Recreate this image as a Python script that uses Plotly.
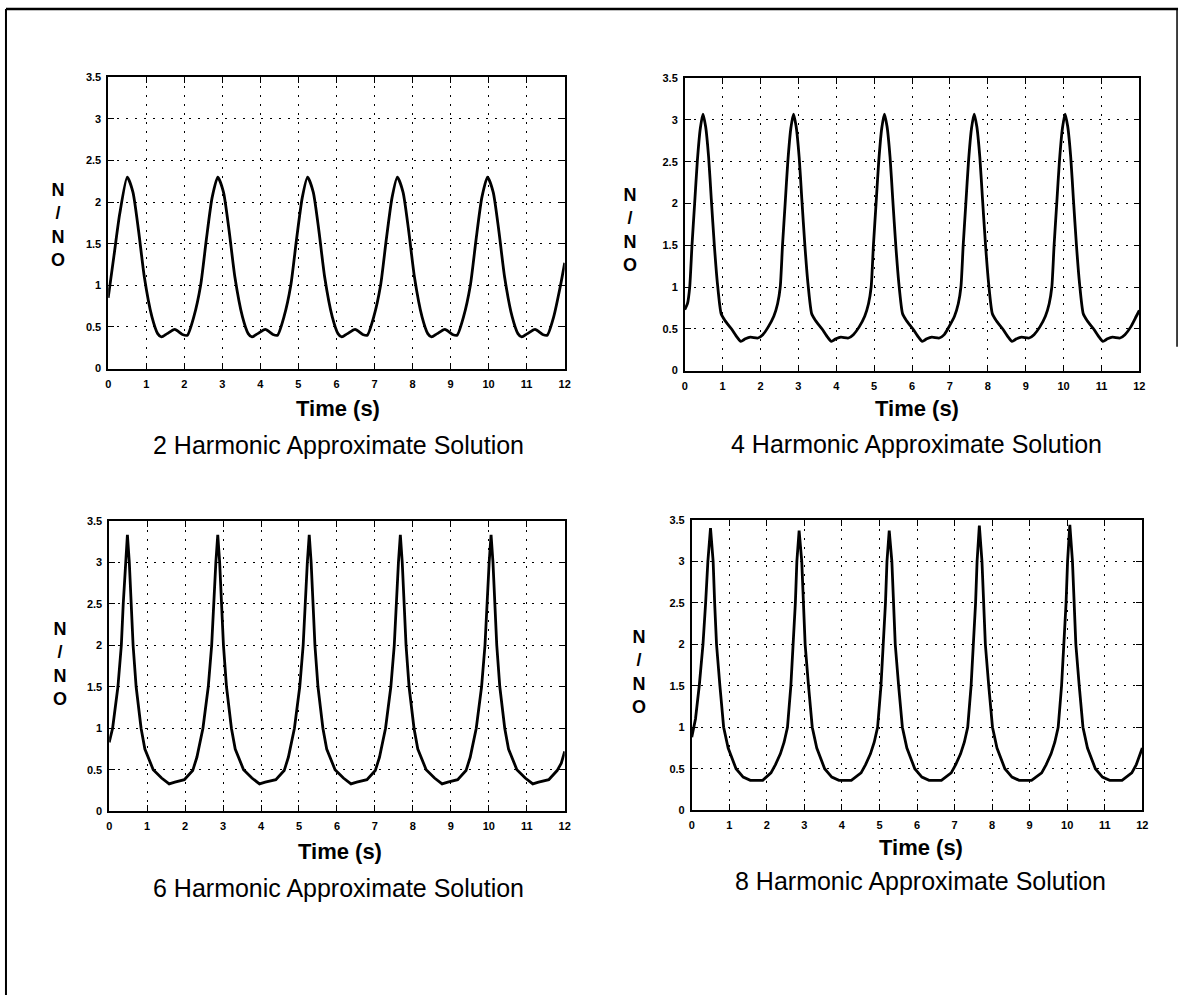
import plotly.graph_objects as go

W, H = 1187, 1001

# ---------------- data ----------------
t_h2 = [0.00, 0.15, 0.30, 0.50, 0.65, 0.80, 0.95, 1.15, 1.30, 1.40, 1.55, 1.75, 1.95, 2.08, 2.25,
        2.43, 2.58, 2.73, 2.88, 3.03, 3.18, 3.33, 3.53, 3.68, 3.78, 3.93, 4.13, 4.33, 4.45, 4.62,
        4.80, 4.95, 5.10, 5.24, 5.39, 5.54, 5.69, 5.89, 6.04, 6.14, 6.29, 6.49, 6.69, 6.81, 6.98,
        7.16, 7.31, 7.46, 7.60, 7.75, 7.90, 8.05, 8.25, 8.40, 8.50, 8.65, 8.85, 9.05, 9.17, 9.34,
        9.52, 9.67, 9.82, 9.97, 10.12, 10.27, 10.42, 10.62, 10.77, 10.87, 11.02, 11.22, 11.42, 11.54, 11.71,
        11.89, 12.00]
n_h2 = [0.85, 1.35, 1.85, 2.30, 2.12, 1.65, 1.10, 0.62, 0.42, 0.38, 0.42, 0.47, 0.41, 0.40, 0.62,
        1.00, 1.55, 2.05, 2.30, 2.12, 1.65, 1.10, 0.62, 0.42, 0.38, 0.42, 0.47, 0.41, 0.40, 0.62,
        1.00, 1.55, 2.05, 2.30, 2.12, 1.65, 1.10, 0.62, 0.42, 0.38, 0.42, 0.47, 0.41, 0.40, 0.62,
        1.00, 1.55, 2.05, 2.30, 2.12, 1.65, 1.10, 0.62, 0.42, 0.38, 0.42, 0.47, 0.41, 0.40, 0.62,
        1.00, 1.55, 2.05, 2.30, 2.12, 1.65, 1.10, 0.62, 0.42, 0.38, 0.42, 0.47, 0.41, 0.40, 0.62,
        1.00, 1.27]

t_h4 = [0.00, 0.07, 0.13, 0.19, 0.26, 0.33, 0.41, 0.48, 0.55, 0.63, 0.70, 0.78, 0.86, 0.96, 1.06,
        1.23, 1.38, 1.48, 1.60, 1.73, 1.93, 2.06, 2.20, 2.35, 2.45,
        2.52, 2.58, 2.65, 2.72, 2.80, 2.87, 2.94, 3.02, 3.09, 3.17, 3.25, 3.35, 3.45,
        3.62, 3.77, 3.87, 3.99, 4.12, 4.32, 4.45, 4.60, 4.75, 4.85,
        4.92, 4.98, 5.05, 5.12, 5.20, 5.27, 5.34, 5.42, 5.49, 5.57, 5.65, 5.75, 5.85,
        6.02, 6.17, 6.27, 6.39, 6.52, 6.72, 6.85, 6.97, 7.12, 7.22,
        7.29, 7.35, 7.42, 7.49, 7.57, 7.64, 7.71, 7.79, 7.86, 7.94, 8.02, 8.12, 8.22,
        8.39, 8.54, 8.64, 8.76, 8.89, 9.09, 9.22, 9.37, 9.52, 9.62,
        9.69, 9.75, 9.82, 9.89, 9.97, 10.04, 10.11, 10.19, 10.26, 10.34, 10.42, 10.52, 10.62,
        10.79, 10.94, 11.04, 11.16, 11.29, 11.49, 11.62, 11.77, 11.92, 12.00]
n_h4 = [0.73, 0.80, 1.00, 1.50, 2.00, 2.50, 2.90, 3.07, 2.92, 2.55, 2.05, 1.50, 1.05, 0.68, 0.60,
        0.50, 0.40, 0.35, 0.38, 0.40, 0.39, 0.43, 0.52, 0.65, 0.80,
        1.00, 1.50, 2.00, 2.50, 2.90, 3.07, 2.92, 2.55, 2.05, 1.50, 1.05, 0.68, 0.60,
        0.50, 0.40, 0.35, 0.38, 0.40, 0.39, 0.43, 0.52, 0.65, 0.80,
        1.00, 1.50, 2.00, 2.50, 2.90, 3.07, 2.92, 2.55, 2.05, 1.50, 1.05, 0.68, 0.60,
        0.50, 0.40, 0.35, 0.38, 0.40, 0.39, 0.43, 0.52, 0.65, 0.80,
        1.00, 1.50, 2.00, 2.50, 2.90, 3.07, 2.92, 2.55, 2.05, 1.50, 1.05, 0.68, 0.60,
        0.50, 0.40, 0.35, 0.38, 0.40, 0.39, 0.43, 0.52, 0.65, 0.80,
        1.00, 1.50, 2.00, 2.50, 2.90, 3.07, 2.92, 2.55, 2.05, 1.50, 1.05, 0.68, 0.60,
        0.50, 0.40, 0.35, 0.38, 0.40, 0.39, 0.43, 0.52, 0.65, 0.72]

t_h6 = [0.00, 0.09, 0.23, 0.32, 0.37, 0.43, 0.48, 0.53, 0.58, 0.63, 0.71, 0.84, 0.94, 1.16, 1.38,
        1.58, 1.73, 1.98, 2.20, 2.31, 2.47,
        2.61, 2.70, 2.75, 2.81, 2.86, 2.91, 2.96, 3.01, 3.09, 3.22, 3.32, 3.54, 3.76, 3.96, 4.11,
        4.39, 4.61, 4.72, 4.88,
        5.02, 5.11, 5.16, 5.22, 5.27, 5.32, 5.37, 5.42, 5.50, 5.63, 5.73, 5.95, 6.17, 6.37, 6.52,
        6.79, 7.01, 7.12, 7.28,
        7.42, 7.51, 7.56, 7.62, 7.67, 7.72, 7.77, 7.82, 7.90, 8.03, 8.13, 8.35, 8.57, 8.77, 8.92,
        9.18, 9.40, 9.51, 9.67,
        9.81, 9.90, 9.95, 10.01, 10.06, 10.11, 10.16, 10.21, 10.29, 10.42, 10.52, 10.74, 10.96, 11.16, 11.31,
        11.58, 11.80, 11.91, 12.00]
n_h6 = [0.83, 1.00, 1.50, 2.00, 2.50, 3.00, 3.33, 3.00, 2.50, 2.00, 1.50, 1.00, 0.75, 0.50, 0.40,
        0.33, 0.35, 0.38, 0.49, 0.65, 1.00,
        1.50, 2.00, 2.50, 3.00, 3.33, 3.00, 2.50, 2.00, 1.50, 1.00, 0.75, 0.50, 0.40, 0.33, 0.35,
        0.38, 0.49, 0.65, 1.00,
        1.50, 2.00, 2.50, 3.00, 3.33, 3.00, 2.50, 2.00, 1.50, 1.00, 0.75, 0.50, 0.40, 0.33, 0.35,
        0.38, 0.49, 0.65, 1.00,
        1.50, 2.00, 2.50, 3.00, 3.33, 3.00, 2.50, 2.00, 1.50, 1.00, 0.75, 0.50, 0.40, 0.33, 0.35,
        0.38, 0.49, 0.65, 1.00,
        1.50, 2.00, 2.50, 3.00, 3.33, 3.00, 2.50, 2.00, 1.50, 1.00, 0.75, 0.50, 0.40, 0.33, 0.35,
        0.38, 0.49, 0.58, 0.72]

t_h8 = [0.00, 0.10, 0.20, 0.30, 0.37, 0.43, 0.50, 0.57, 0.61, 0.66, 0.75, 0.85, 0.97, 1.18, 1.37,
        1.56, 1.89, 2.05, 2.11, 2.23, 2.36, 2.46, 2.55,
        2.64, 2.71, 2.76, 2.80, 2.86, 2.93, 2.97, 3.02, 3.11, 3.21, 3.33, 3.54, 3.73, 3.92, 4.25,
        4.41, 4.51, 4.63, 4.76, 4.86, 4.95,
        5.04, 5.11, 5.16, 5.20, 5.26, 5.33, 5.37, 5.42, 5.51, 5.61, 5.73, 5.94, 6.13, 6.32, 6.65,
        6.81, 6.91, 7.03, 7.16, 7.26, 7.35,
        7.44, 7.51, 7.56, 7.60, 7.66, 7.73, 7.77, 7.82, 7.91, 8.01, 8.13, 8.34, 8.53, 8.72, 9.05,
        9.21, 9.32, 9.44, 9.57, 9.67, 9.76,
        9.85, 9.92, 9.97, 10.01, 10.07, 10.14, 10.18, 10.23, 10.32, 10.42, 10.54, 10.75, 10.94, 11.13, 11.46,
        11.62, 11.72, 11.84, 12.00]
n_h8 = [0.88, 1.10, 1.50, 2.00, 2.50, 3.00, 3.40, 3.00, 2.50, 2.00, 1.50, 1.00, 0.75, 0.50, 0.40,
        0.36, 0.36, 0.42, 0.45, 0.55, 0.68, 0.82, 1.00,
        1.50, 2.00, 2.50, 3.00, 3.37, 3.00, 2.50, 2.00, 1.50, 1.00, 0.75, 0.50, 0.40, 0.36, 0.36,
        0.42, 0.45, 0.55, 0.68, 0.82, 1.00,
        1.50, 2.00, 2.50, 3.00, 3.37, 3.00, 2.50, 2.00, 1.50, 1.00, 0.75, 0.50, 0.40, 0.36, 0.36,
        0.42, 0.45, 0.55, 0.68, 0.82, 1.00,
        1.50, 2.00, 2.50, 3.00, 3.43, 3.00, 2.50, 2.00, 1.50, 1.00, 0.75, 0.50, 0.40, 0.36, 0.36,
        0.42, 0.45, 0.55, 0.68, 0.82, 1.00,
        1.50, 2.00, 2.50, 3.00, 3.44, 3.00, 2.50, 2.00, 1.50, 1.00, 0.75, 0.50, 0.40, 0.36, 0.36,
        0.42, 0.45, 0.55, 0.75]

x_ticks = list(range(0, 13))
x_tick_labels = [str(v) for v in x_ticks]
y_ticks = [0, 0.5, 1, 1.5, 2, 2.5, 3, 3.5]
y_tick_labels = ["0", "0.5", "1", "1.5", "2", "2.5", "3", "3.5"]

subtitles = ["2 Harmonic Approximate Solution", "4 Harmonic Approximate Solution",
             "6 Harmonic Approximate Solution", "8 Harmonic Approximate Solution"]
x_title = "Time (s)"
y_title = "N<br>/<br>N<br>O"

# ---------------- layout geometry (pixels) ----------------
panels = [
    dict(t=t_h2, n=n_h2, box=(106, 566, 72, 367), shape="spline", ylab=(55, 222), xlab=(338, 407), sub=(338, 444)),
    dict(t=t_h4, n=n_h4, box=(687, 1145, 73, 369), shape="spline", ylab=(632, 227), xlab=(921, 407), sub=(920, 443)),
    dict(t=t_h6, n=n_h6, box=(107, 566, 521, 815), shape="linear", ylab=(57, 666), xlab=(340, 856), sub=(338, 893)),
    dict(t=t_h8, n=n_h8, box=(694, 1148, 520, 814), shape="linear", ylab=(641, 674), xlab=(925, 852), sub=(925, 886)),
]

def px(x):
    return x / W

def py(y):
    return 1 - y / H

FONT = "Liberation Sans, Arial, sans-serif"
fig = go.Figure()
annotations = []
for i, p in enumerate(panels):
    k = "" if i == 0 else str(i + 1)
    x0, x1, y0, y1 = p["box"]
    fig.add_trace(go.Scatter(
        x=p["t"], y=p["n"], mode="lines",
        line=dict(color="black", width=2.8, shape=p["shape"], smoothing=0.6),
        xaxis="x" + k, yaxis="y" + k, showlegend=False, hoverinfo="skip"))
    common = dict(showline=True, linecolor="black", linewidth=1.6, mirror="ticks",
                  ticks="inside", ticklen=6, tickwidth=1.2, tickcolor="black",
                  showgrid=True, gridcolor="black", gridwidth=1.4, griddash="2px,7px",
                  zeroline=False, tickfont=dict(family=FONT, size=11, color="black", weight="bold"))
    fig.layout["xaxis" + k] = dict(domain=[px(x0), px(x1)], range=[0, 12], tickvals=x_ticks,
                                   ticktext=x_tick_labels, anchor="y" + k,
                                   ticklabelstandoff=4, **common)
    fig.layout["yaxis" + k] = dict(domain=[py(y1), py(y0)], range=[0, 3.5], tickvals=y_ticks,
                                   ticktext=y_tick_labels, anchor="x" + k,
                                   ticklabelstandoff=3, **common)
    annotations.append(dict(text=y_title, x=px(p["ylab"][0]), y=py(p["ylab"][1]), xref="paper", yref="paper",
                            showarrow=False, xanchor="center", yanchor="middle",
                            font=dict(family=FONT, size=18, color="black", weight="bold")))
    annotations.append(dict(text=x_title, x=px(p["xlab"][0]), y=py(p["xlab"][1]), xref="paper", yref="paper",
                            showarrow=False, xanchor="center", yanchor="middle",
                            font=dict(family=FONT, size=22, color="black", weight="bold")))
    annotations.append(dict(text=subtitles[i], x=px(p["sub"][0]), y=py(p["sub"][1]), xref="paper", yref="paper",
                            showarrow=False, xanchor="center", yanchor="middle",
                            font=dict(family=FONT, size=25, color="black")))

shapes = [
    dict(type="line", xref="paper", yref="paper", x0=px(3), x1=px(1184), y0=py(3), y1=py(3),
         line=dict(color="black", width=2.5)),
    dict(type="line", xref="paper", yref="paper", x0=px(3), x1=px(3), y0=py(3), y1=py(1001),
         line=dict(color="black", width=2)),
    dict(type="line", xref="paper", yref="paper", x0=px(1183), x1=px(1183), y0=py(3), y1=py(345),
         line=dict(color="black", width=1.5)),
]

fig.update_layout(width=W, height=H, margin=dict(l=0, r=0, t=0, b=0),
                  paper_bgcolor="white", plot_bgcolor="white",
                  annotations=annotations, shapes=shapes,
                  font=dict(family=FONT, color="black"))

fig.write_html("out.html", config={"displayModeBar": False},
               post_script="document.body.style.margin='0';document.body.style.overflow='hidden';")
